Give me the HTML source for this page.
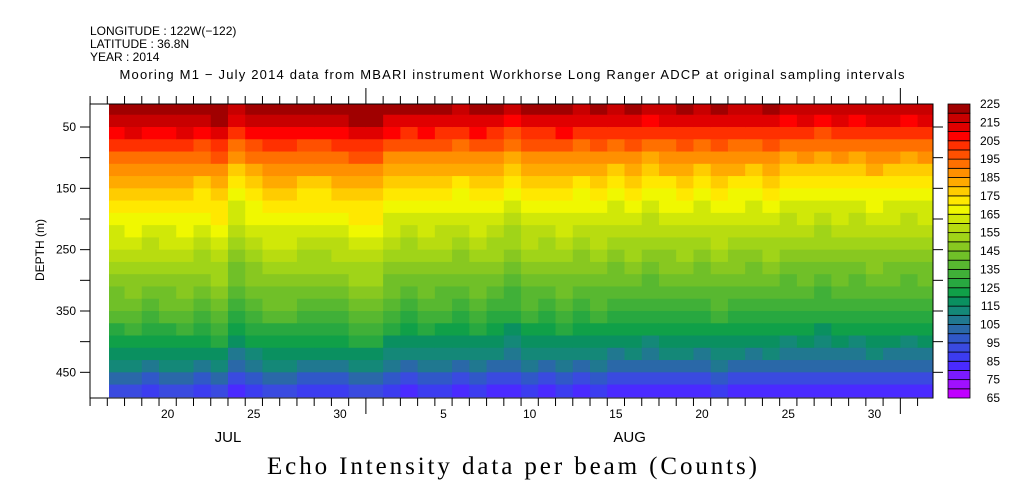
<!DOCTYPE html>
<html><head><meta charset="utf-8"><style>
body{margin:0;background:#fff;width:1009px;height:504px;overflow:hidden}
svg{display:block}
text{font-family:"Liberation Sans",sans-serif;fill:#000}
</style></head><body>
<svg id="chart" width="1009" height="504" viewBox="0 0 1009 504">
<g font-size="12">
<text x="90" y="35">LONGITUDE : 122W(−122)</text>
<text x="90" y="48">LATITUDE : 36.8N</text>
<text x="90" y="61">YEAR : 2014</text>
</g>
<text x="512" y="79" font-size="13" text-anchor="middle" textLength="785" lengthAdjust="spacing">Mooring M1 − July 2014 data from MBARI instrument Workhorse Long Ranger ADCP at original sampling intervals</text>
<g id="cells"></g>
<g id="axes"></g>
<g id="cbar"></g>
<text x="44" y="250" font-size="12" text-anchor="middle" transform="rotate(-90 44 250)">DEPTH (m)</text>
<text x="512" y="474" font-size="25" text-anchor="middle" textLength="490" lengthAdjust="spacing" style="font-family:'Liberation Serif',serif">Echo Intensity data per beam (Counts)</text>
</svg>
<script>
// data arrays
const depthBins=[20,40,60,80,100,120,140,160,180,200,220,240,260,280,300,320,340,360,380,400,420,440,460,480];
const profile=[220,212,203,195,187,181,175,170,166,162,158,154,150,146,142,138,134,129,123,117,111,104,94,84];
const days=[17,18,19,20,21,22,23,24,25,26,27,28,29,30,31,32,33,34,35,36,37,38,39,40,41,42,43,44,45,46,47,48,49,50,51,52,53,54,55,56,57,58,59,60,61,62,63,64];
const dayOffset=[6,7,5,6,7,4,8,-2,3,6,6,4,4,5,8,8,2,0,2,1,-1,2,0,-4,1,0,2,-1,1,-2,0,-3,-1,0,-2,1,-1,-2,0,-3,-2,-4,-2,-3,-1,-2,-3,-2];
const cbLevels=[65,70,75,80,85,90,95,100,105,110,115,120,125,130,135,140,145,150,155,160,165,170,175,180,185,190,195,200,205,210,215,220,225];
const cbLabels=[65,75,85,95,105,115,125,135,145,155,165,175,185,195,205,215,225];
const palette=["#c000ff","#a010ff","#7a1aff","#4a2aff","#3c3cf0","#3a4ae0","#3058c8","#2a68a8","#207890","#148878","#0a9060","#10a048","#28a840","#40b038","#58b830","#70c028","#88c820","#a0d418","#b8dc10","#d0e808","#f0f800","#ffe800","#ffcc00","#ffaa00","#ff9000","#ff7000","#ff5000","#ff3000","#ff0000","#e00000","#c80000","#a00000"];
const yTicks=[50,100,150,200,250,300,350,400,450];
const yLabels=[50,150,250,350,450];
const xLabelDays=[20,25,30,36,41,46,51,56,61];
const xLabelText=["20","25","30","5","10","15","20","25","30"];
const monthDays=[24,47.3];const monthText=["JUL","AUG"];

const NS="http://www.w3.org/2000/svg";
const X0=90,X1=933,Y0=104,Y1=398,DATA_X=109;
const xs=d=>107.3+(d-17)*17.24;
const ys=m=>127+(m-50)*0.6133;
function col(v){let i=Math.floor((v-65)/5);i=Math.max(0,Math.min(31,i));return palette[i];}
function mk(tag,at,parent){const e=document.createElementNS(NS,tag);for(const k in at)e.setAttribute(k,at[k]);parent.appendChild(e);return e;}
const cells=document.getElementById('cells');
for(let i=0;i<days.length;i++){
  let xa=Math.max(xs(days[i]),DATA_X),xb=Math.min(xs(days[i]+1),X1);
  if(xb<=xa)continue;
  for(let j=0;j<depthBins.length;j++){
    const ya=Math.max(ys(depthBins[j]-10),Y0),yb=Math.min(ys(depthBins[j]+10),Y1);
    const r=mk('rect',{x:xa,y:ya,width:xb-xa+0.5,height:yb-ya+0.5,fill:col(profile[j]+dayOffset[i])},cells);
    
    
  }
}
const ax=document.getElementById('axes');
mk('rect',{x:X0,y:Y0,width:X1-X0,height:Y1-Y0,fill:'none',stroke:'#000','stroke-width':1},ax);
yTicks.forEach(t=>{const y=ys(t);mk('line',{x1:80,x2:X0,y1:y,y2:y,stroke:'#000'},ax);mk('line',{x1:X1,x2:943,y1:y,y2:y,stroke:'#000'},ax);});
yLabels.forEach(t=>{const e=mk('text',{x:76,y:ys(t)+4,'font-size':12,'text-anchor':'end'},ax);e.textContent=t;
  });
for(let d=16;d<=64;d++){const x=xs(d);if(x<X0-0.5||x>X1+0.5)continue;const major=(d===32||d===63);
  mk('line',{x1:x,x2:x,y1:Y1,y2:Y1+(major?16:8),stroke:'#000'},ax);mk('line',{x1:x,x2:x,y1:Y0,y2:Y0-(major?16:8),stroke:'#000'},ax);}
xLabelDays.forEach((d,i)=>{const e=mk('text',{x:xs(d)+8.6,y:418,'font-size':12,'text-anchor':'middle'},ax);e.textContent=xLabelText[i];
  });
monthDays.forEach((d,i)=>{const e=mk('text',{x:xs(d),y:442,'font-size':15,'text-anchor':'middle'},ax);e.textContent=monthText[i];
  });
const cb=document.getElementById('cbar');const bh=(Y1-Y0)/32;
for(let i=0;i<32;i++){const r=mk('rect',{x:948,y:Y1-(i+1)*bh,width:22,height:bh,fill:palette[i],stroke:'#000','stroke-width':0.8},cb);
  }
cbLabels.forEach(v=>{const i=(v-65)/5;const e=mk('text',{x:1000,y:Y1-i*bh+4,'font-size':12,'text-anchor':'end'},cb);e.textContent=v;
  });
</script>
</body></html>
